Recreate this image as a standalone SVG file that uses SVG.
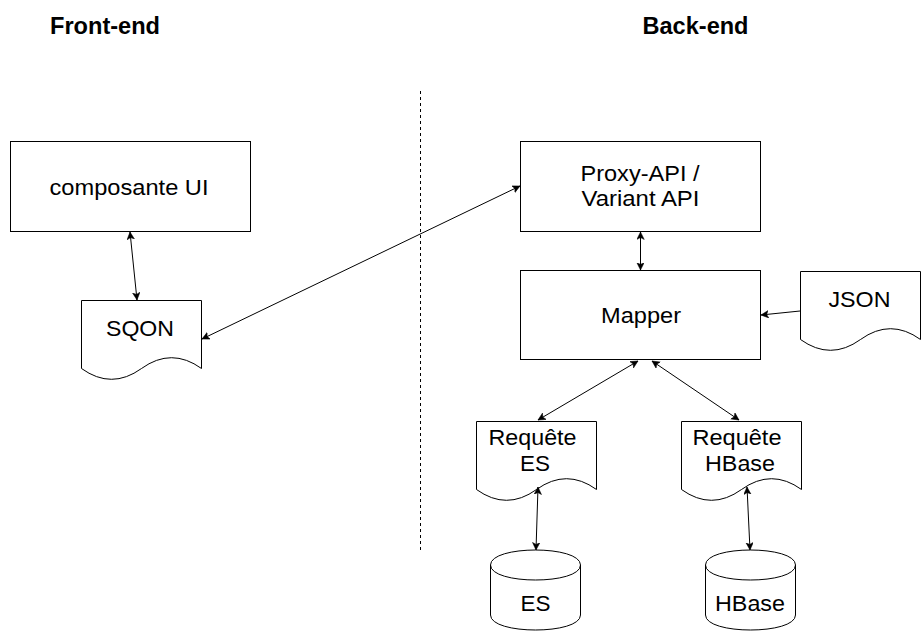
<svg xmlns="http://www.w3.org/2000/svg" width="921" height="631" viewBox="0 0 921 631">
<style>
.shape{fill:#fff;stroke:#000;stroke-width:1}
.t{font-family:"Liberation Sans",Arial,Helvetica,sans-serif;font-size:22px;fill:#000;text-anchor:middle}
.title{font-family:"Liberation Sans",Arial,Helvetica,sans-serif;font-size:23px;font-weight:bold;fill:#000;text-anchor:middle}
.edge{fill:none;stroke:#000;stroke-width:1}
.bi{marker-start:url(#arr);marker-end:url(#arr)}
.one{marker-end:url(#arr)}
</style>
<defs>
<marker id="arr" markerUnits="userSpaceOnUse" markerWidth="10" markerHeight="10" refX="7.5" refY="3.75" orient="auto-start-reverse" viewBox="0 0 10 10">
<path d="M0,0 L7.5,3.75 L0,7.5 L1.9,3.75 Z" fill="#000" stroke="#000" stroke-width="0.5"/>
</marker>
<path id="doc" d="M0,0 H120 V68 Q90,46.4 60,68 Q30,89.6 0,68 Z"/>
</defs>
<rect width="921" height="631" fill="#fff"/>

<g id="title-front"><text class="title" x="105" y="34" textLength="110" lengthAdjust="spacingAndGlyphs">Front-end</text></g>
<g id="title-back"><text class="title" x="695.5" y="34" textLength="106" lengthAdjust="spacingAndGlyphs">Back-end</text></g>

<g id="separator"><line x1="420.5" y1="91" x2="420.5" y2="551" stroke="#000" stroke-width="1" stroke-dasharray="3,3"/></g>

<g id="composante-ui">
<rect class="shape" x="10.5" y="141.5" width="240" height="90"/>
<text class="t" x="129" y="194.5" textLength="159" lengthAdjust="spacingAndGlyphs">composante UI</text>
</g>

<g id="sqon">
<use href="#doc" class="shape" transform="translate(81.5,300.5)"/>
<text class="t" x="140" y="335.5" textLength="68" lengthAdjust="spacingAndGlyphs">SQON</text>
</g>

<g id="proxy-api">
<rect class="shape" x="520.5" y="141.5" width="240" height="90"/>
<text class="t" x="640" y="181" textLength="119" lengthAdjust="spacingAndGlyphs">Proxy-API /</text>
<text class="t" x="640.5" y="206" textLength="118" lengthAdjust="spacingAndGlyphs">Variant API</text>
</g>

<g id="mapper">
<rect class="shape" x="520.5" y="270.5" width="240" height="89"/>
<text class="t" x="641" y="322.5" textLength="80" lengthAdjust="spacingAndGlyphs">Mapper</text>
</g>

<g id="json">
<use href="#doc" class="shape" transform="translate(800.5,271.5)"/>
<text class="t" x="859.5" y="306.5" textLength="62" lengthAdjust="spacingAndGlyphs">JSON</text>
</g>

<g id="requete-es">
<use href="#doc" class="shape" transform="translate(476.5,421.5)"/>
<text class="t" x="532.5" y="444.5" textLength="88" lengthAdjust="spacingAndGlyphs">Requête</text>
<text class="t" x="535" y="471" textLength="30" lengthAdjust="spacingAndGlyphs">ES</text>
</g>

<g id="requete-hbase">
<use href="#doc" class="shape" transform="translate(681.5,421.5)"/>
<text class="t" x="737" y="444.5" textLength="89" lengthAdjust="spacingAndGlyphs">Requête</text>
<text class="t" x="740" y="471" textLength="70" lengthAdjust="spacingAndGlyphs">HBase</text>
</g>

<g id="es-db">
<path class="shape" d="M490.5,565 C490.5,545 580.5,545 580.5,565 V615 C580.5,635 490.5,635 490.5,615 Z"/>
<path class="edge" d="M490.5,565 C490.5,585 580.5,585 580.5,565"/>
<text class="t" x="535.5" y="610.5" textLength="30" lengthAdjust="spacingAndGlyphs">ES</text>
</g>

<g id="hbase-db">
<path class="shape" d="M705.5,565 C705.5,545 795.5,545 795.5,565 V615 C795.5,635 705.5,635 705.5,615 Z"/>
<path class="edge" d="M705.5,565 C705.5,585 795.5,585 795.5,565"/>
<text class="t" x="750" y="610.5" textLength="70" lengthAdjust="spacingAndGlyphs">HBase</text>
</g>

<g id="connectors">
<line class="edge bi" x1="130" y1="232" x2="137" y2="300"/>
<line class="edge bi" x1="202" y1="339" x2="520" y2="186"/>
<line class="edge bi" x1="640.5" y1="232" x2="640.5" y2="270"/>
<line class="edge one" x1="800" y1="311" x2="761" y2="315"/>
<line class="edge bi" x1="638" y1="361" x2="538" y2="420"/>
<line class="edge bi" x1="652" y1="361" x2="739" y2="420"/>
<line class="edge bi" x1="538" y1="487" x2="536" y2="550"/>
<line class="edge bi" x1="747" y1="487" x2="750" y2="550"/>
</g>
</svg>
